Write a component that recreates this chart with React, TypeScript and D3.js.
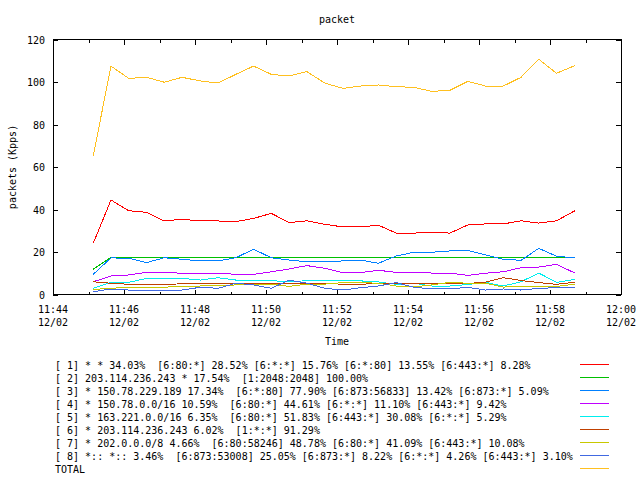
import React from "react";
import * as d3 from "d3";

const title = "packet";
const yLabel = "packets (Kpps)";
const xLabel = "Time";
const dateLabel = "12/02";
const xDomain = ["11:44:00", "12:00:00"];
const yDomain = [0, 120];
const yTicks = [0, 20, 40, 60, 80, 100, 120];

const times = [
  "11:45:08", "11:45:38", "11:46:08", "11:46:38", "11:47:08", "11:47:38", "11:48:09",
  "11:48:39", "11:49:09", "11:49:39", "11:50:09", "11:50:39", "11:51:09", "11:51:40",
  "11:52:10", "11:52:40", "11:53:10", "11:53:40", "11:54:10", "11:54:40", "11:55:11",
  "11:55:41", "11:56:11", "11:56:41", "11:57:11", "11:57:41", "11:58:11", "11:58:42",
];

const s1 = [24.1, 44.5, 39.4, 38.7, 34.6, 35.4, 34.6, 34.6, 34.3, 35.8, 38.2, 33.8, 34.7, 33.0, 31.8, 31.8, 32.6, 28.9, 28.9, 29.3, 28.9, 32.7, 33.2, 33.2, 34.7, 33.6, 34.7, 39.4];
const s2 = [11.9, 17.5, 17.5, 17.5, 17.5, 17.5, 17.5, 17.5, 17.5, 17.5, 17.5, 17.5, 17.5, 17.5, 17.5, 17.5, 17.5, 17.5, 17.5, 17.5, 17.5, 17.5, 17.5, 17.5, 17.5, 17.5, 17.5, 17.5];
const s3 = [9.5, 17.2, 17.1, 15.0, 17.3, 16.6, 15.8, 15.8, 17.3, 21.3, 17.3, 16.2, 15.4, 15.4, 15.8, 16.2, 14.7, 18.1, 19.9, 19.9, 20.5, 20.8, 18.6, 16.6, 16.1, 21.7, 18.0, 17.2];
const s4 = [6.0, 8.7, 9.2, 10.4, 10.4, 10.0, 10.0, 10.0, 9.5, 9.5, 10.7, 12.0, 13.6, 12.3, 10.3, 10.3, 11.4, 10.4, 10.4, 10.1, 10.1, 9.0, 10.0, 10.7, 12.6, 12.9, 14.2, 10.1];
const s5 = [2.9, 5.7, 5.7, 7.6, 7.6, 7.6, 6.8, 7.9, 6.8, 6.5, 6.5, 6.0, 6.5, 6.8, 6.6, 6.4, 5.9, 4.8, 5.3, 4.0, 4.0, 4.7, 5.7, 4.0, 6.0, 10.1, 5.7, 7.1];
const s6 = [6.0, 5.3, 4.8, 4.8, 4.8, 5.0, 5.3, 5.3, 5.0, 5.0, 5.3, 5.0, 5.3, 5.3, 4.8, 4.8, 5.3, 5.3, 5.0, 5.0, 5.3, 5.2, 5.8, 7.9, 6.6, 5.6, 4.8, 5.8];
const s7 = [2.4, 2.9, 3.4, 3.4, 3.4, 4.0, 4.0, 4.2, 4.5, 4.5, 4.9, 3.8, 4.9, 4.9, 5.6, 5.6, 5.3, 4.0, 3.6, 4.5, 5.7, 5.3, 5.3, 3.5, 3.8, 3.8, 3.8, 4.9];
const s8 = [1.3, 2.6, 2.1, 2.1, 2.1, 2.1, 3.4, 2.9, 5.3, 4.5, 2.9, 6.8, 5.3, 2.9, 2.1, 3.2, 4.0, 5.6, 3.4, 2.6, 2.6, 3.4, 2.1, 2.6, 2.1, 2.9, 3.2, 3.2];
const total = [65.2, 107.5, 101.7, 102.2, 99.9, 102.2, 100.5, 99.5, 103.6, 107.5, 103.6, 102.8, 104.9, 99.4, 97.0, 98.1, 98.6, 97.8, 97.5, 95.6, 96.1, 100.3, 98.1, 98.1, 102.2, 110.7, 104.1, 107.7];

const legendLabels = [
  "[ 1] * * 34.03%  [6:80:*] 28.52% [6:*:*] 15.76% [6:*:80] 13.55% [6:443:*] 8.28%",
  "[ 2] 203.114.236.243 * 17.54%  [1:2048:2048] 100.00%",
  "[ 3] * 150.78.229.189 17.34%  [6:*:80] 77.90% [6:873:56833] 13.42% [6:873:*] 5.09%",
  "[ 4] * 150.78.0.0/16 10.59%  [6:80:*] 44.61% [6:*:*] 11.10% [6:443:*] 9.42%",
  "[ 5] * 163.221.0.0/16 6.35%  [6:80:*] 51.83% [6:443:*] 30.08% [6:*:*] 5.29%",
  "[ 6] * 203.114.236.243 6.02%  [1:*:*] 91.29%",
  "[ 7] * 202.0.0.0/8 4.66%  [6:80:58246] 48.78% [6:80:*] 41.09% [6:443:*] 10.08%",
  "[ 8] *:: *:: 3.46%  [6:873:53008] 25.05% [6:873:*] 8.22% [6:*:*] 4.26% [6:443:*] 3.10%",
  "TOTAL",
];
const seriesValues = [s1, s2, s3, s4, s5, s6, s7, s8, total];
const colors = ["#ff0000", "#00c000", "#0080ff", "#c000ff", "#00eeee", "#c04000", "#c8c800", "#4169e1", "#ffc020"];

const W = 640;
const H = 480;
const M = { left: 53, right: 621, top: 39.5, bottom: 294.5 };
const FONT = "'DejaVu Sans Mono', monospace";

export default function App() {
  const parse = d3.timeParse("%H:%M:%S");
  const x = d3.scaleTime().domain(xDomain.map((t) => parse(t) as Date)).range([M.left, M.right]);
  const y = d3.scaleLinear().domain(yDomain).range([M.bottom, M.top]);
  const dates = times.map((t) => parse(t) as Date);
  const line = d3
    .line<number>()
    .x((_, i) => x(dates[i]))
    .y((v) => y(v));

  const majors = x.ticks(d3.timeMinute.every(2) as any);
  const minors = x.ticks(d3.timeMinute.every(1) as any).filter((d) => d.getMinutes() % 2 === 1);
  const fmt = d3.timeFormat("%H:%M");
  const cx = (M.left + M.right) / 2;

  return (
    <svg width={W} height={H} style={{ position: "absolute", left: 0, top: 0, background: "#fff" }} fontFamily={FONT} fontSize={10}>
      <rect x={0} y={0} width={W} height={H} fill="#fff" />
      <text x={cx} y={23} textAnchor="middle" fill="#000">{title}</text>
      {/* frame */}
      <rect x={M.left + 0.5} y={M.top} width={M.right - M.left - 0.5} height={M.bottom - M.top} fill="none" stroke="#000" strokeWidth={1} shapeRendering="crispEdges" />
      {/* y ticks */}
      {yTicks.map((t) => (
        <g key={"y" + t}>
          <line x1={M.left} x2={M.left + 5} y1={Math.round(y(t)) + 0.5} y2={Math.round(y(t)) + 0.5} stroke="#000" shapeRendering="crispEdges" />
          <line x1={M.right - 5} x2={M.right} y1={Math.round(y(t)) + 0.5} y2={Math.round(y(t)) + 0.5} stroke="#000" shapeRendering="crispEdges" />
          <text x={45} y={y(t) + 4} textAnchor="end" fill="#000">{t}</text>
        </g>
      ))}
      {/* x ticks */}
      {majors.map((d, i) => (
        <g key={"xm" + i}>
          <line x1={Math.round(x(d)) + 0.5} x2={Math.round(x(d)) + 0.5} y1={M.bottom} y2={M.bottom - 5} stroke="#000" shapeRendering="crispEdges" />
          <line x1={Math.round(x(d)) + 0.5} x2={Math.round(x(d)) + 0.5} y1={M.top} y2={M.top + 5} stroke="#000" shapeRendering="crispEdges" />
          <text x={x(d)} y={313} textAnchor="middle" fill="#000">{fmt(d)}</text>
          <text x={x(d)} y={326} textAnchor="middle" fill="#000">{dateLabel}</text>
        </g>
      ))}
      {minors.map((d, i) => (
        <g key={"xn" + i}>
          <line x1={Math.round(x(d)) + 0.5} x2={Math.round(x(d)) + 0.5} y1={M.bottom} y2={M.bottom - 3} stroke="#000" shapeRendering="crispEdges" />
          <line x1={Math.round(x(d)) + 0.5} x2={Math.round(x(d)) + 0.5} y1={M.top} y2={M.top + 3} stroke="#000" shapeRendering="crispEdges" />
        </g>
      ))}
      <text x={cx} y={345} textAnchor="middle" fill="#000">{xLabel}</text>
      <text transform={`translate(16,${(M.top + M.bottom) / 2}) rotate(-90)`} textAnchor="middle" fill="#000">{yLabel}</text>
      {/* series */}
      {seriesValues.map((vals, k) => (
        <path key={"s" + k} d={line(vals) || ""} fill="none" stroke={colors[k]} strokeWidth={1} shapeRendering="crispEdges" />
      ))}
      {/* legend */}
      {legendLabels.map((lab, k) => (
        <g key={"l" + k}>
          <text x={55} y={369 + 13 * k} fill="#000" style={{ whiteSpace: "pre" }}>{lab}</text>
          <line x1={580} x2={609} y1={364.5 + 13 * k} y2={364.5 + 13 * k} stroke={colors[k]} strokeWidth={1} shapeRendering="crispEdges" />
        </g>
      ))}
    </svg>
  );
}
